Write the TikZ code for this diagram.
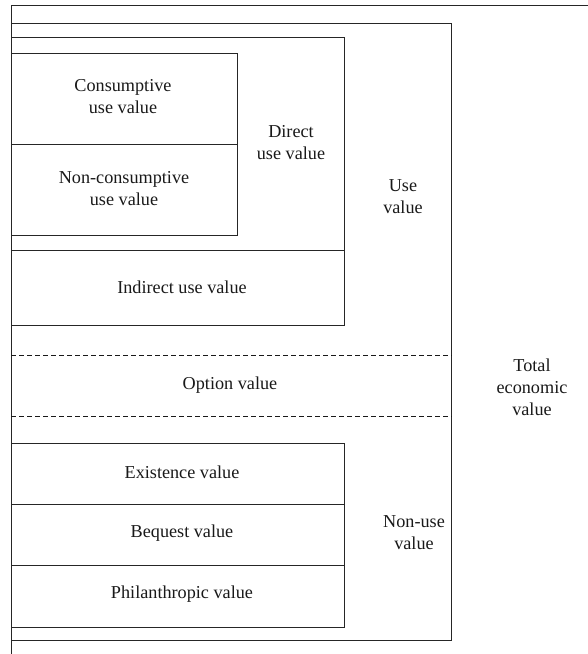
\documentclass[tikz,border=0pt]{standalone}
\usepackage{fontspec}
\setmainfont{Liberation Serif}
\begin{document}
\begin{tikzpicture}[x=1pt,y=-1pt,
  frame/.style={draw=black!85, line width=1pt},
  dline/.style={draw=black!90, line width=1pt, dash pattern=on 5pt off 3pt},
  lbl/.style={align=center, inner sep=0pt, font=\fontsize{18.2}{22}\selectfont, text=black!90}]
\useasboundingbox (0,0) rectangle (588,654);
% outer frame (total economic value)
\draw[frame] (588,5) -- (11,5) -- (11,654);
% inner box
\draw[frame] (11,23) -- (451,23) -- (451,640) -- (11,640);
% direct + indirect use box
\draw[frame] (11,37) -- (344,37) -- (344,325) -- (11,325);
\draw[frame] (11,250) -- (344,250);
% consumptive / non-consumptive box
\draw[frame] (11,53) -- (237,53) -- (237,235) -- (11,235);
\draw[frame] (11,144) -- (237,144);
% option value dashed lines
\draw[dline] (11,355) -- (452,355);
\draw[dline] (11,416) -- (452,416);
% non-use box
\draw[frame] (11,443) -- (344,443) -- (344,627) -- (11,627);
\draw[frame] (11,504) -- (344,504);
\draw[frame] (11,565) -- (344,565);
% labels
\node[lbl] (cons) at (123,97) {Consumptive\\use value};
\node[lbl] (noncons) at (124,189) {Non-consumptive\\use value};
\node[lbl] (direct) at (291,143) {Direct\\use value};
\node[lbl] (indirect) at (182,287) {Indirect use value};
\node[lbl] (use) at (403,197) {Use\\value};
\node[lbl] (option) at (230,385) {Option value};
\node[lbl] (total) at (532,387) {Total\\economic\\value};
\node[lbl] (exist) at (182,472) {Existence value};
\node[lbl] (bequest) at (182,533) {Bequest value};
\node[lbl] (phil) at (182,594) {Philanthropic value};
\node[lbl] (nonuse) at (414,533) {Non-use\\value};
\end{tikzpicture}
\end{document}
